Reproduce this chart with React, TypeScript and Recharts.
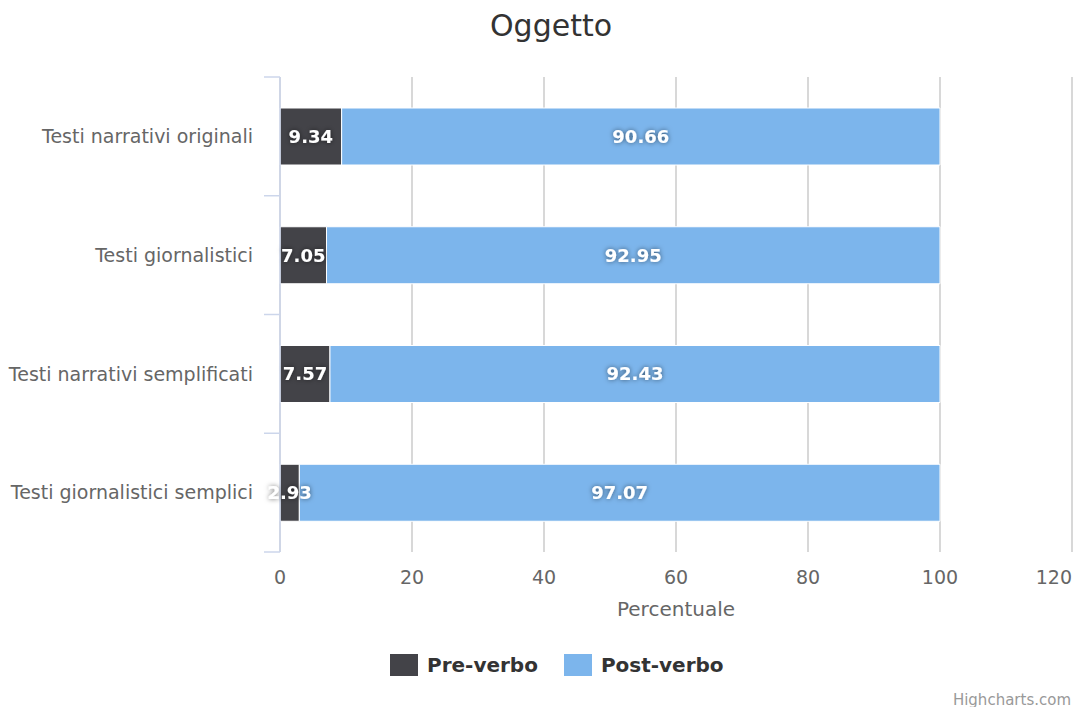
import React from 'react'
import { BarChart, Bar, XAxis, YAxis, CartesianGrid, LabelList } from 'recharts'

// categories and stacked shares (percent)
const categories = [
  'Testi narrativi originali',
  'Testi giornalistici',
  'Testi narrativi semplificati',
  'Testi giornalistici semplici',
]
const preVerbo = [9.34, 7.05, 7.57, 2.93]
const postVerbo = [90.66, 92.95, 92.43, 97.07]
const xTicks = [0, 20, 40, 60, 80, 100, 120]

const FONT = '"DejaVu Sans", "Lucida Grande", sans-serif'
const PRE_COLOR = '#434348'
const POST_COLOR = '#7cb5ec'
const AXIS_COLOR = '#ccd6eb'

const data = categories.map((name, i) => ({ name, pre: preVerbo[i], post: postVerbo[i] }))

const labelStyle = {
  fill: '#ffffff',
  fontSize: 18,
  fontWeight: 'bold' as const,
  fontFamily: FONT,
  filter: 'url(#glow)',
}

const legendItems = [
  { label: 'Pre-verbo', color: PRE_COLOR },
  { label: 'Post-verbo', color: POST_COLOR },
]

// category label plus tick marks on the band edges (Highcharts "between" placement)
function CategoryTick(props: any) {
  const { x, y, payload, index, visibleTicksCount } = props
  const half = payload.offset ?? 0
  const axisX = x + 27
  const isLast = index === (visibleTicksCount ?? categories.length) - 1
  return (
    <g>
      <line x1={axisX - 16} x2={axisX} y1={y - half} y2={y - half} stroke={AXIS_COLOR} strokeWidth={1.5} />
      {isLast && <line x1={axisX - 16} x2={axisX} y1={y + half} y2={y + half} stroke={AXIS_COLOR} strokeWidth={1.5} />}
      <text x={x} y={y} dy="0.35em" textAnchor="end" fill="#666666" fontSize={19} fontFamily={FONT}>
        {payload.value}
      </text>
    </g>
  )
}

// last value label is pulled inside the chart edge
function ValueTick(props: any) {
  const { x, y, payload } = props
  const last = payload.value === xTicks[xTicks.length - 1]
  return (
    <text x={x} y={y} dy="0.71em" textAnchor={last ? 'end' : 'middle'} fill="#666666" fontSize={19} fontFamily={FONT}>
      {payload.value}
    </text>
  )
}

export default function App() {
  return (
    <div style={{ position: 'absolute', left: 0, top: 0, width: 1073, height: 707, background: '#fff', fontFamily: FONT }}>
      <div style={{ position: 'absolute', top: 8, left: 451, width: 200, textAlign: 'center', fontSize: 30, color: '#333333' }}>
        Oggetto
      </div>
      <BarChart
        width={1073}
        height={707}
        data={data}
        layout="vertical"
        margin={{ top: 77, right: 1, bottom: 85, left: 0 }}
      >
        <defs>
          <filter id="glow" x="-30%" y="-50%" width="160%" height="200%">
            <feDropShadow dx="0" dy="0" stdDeviation="2.5" floodColor="#000" floodOpacity="0.55" />
          </filter>
        </defs>
        <CartesianGrid horizontal={false} stroke="#d8d8d8" strokeWidth={2} />
        <XAxis
          type="number"
          domain={[0, 120]}
          ticks={xTicks}
          interval={0}
          axisLine={false}
          tickLine={false}
          tickSize={0}
          tickMargin={19}
          height={70}
          tick={<ValueTick />}
          label={{ value: 'Percentuale', position: 'insideBottom', offset: 6, fill: '#666666', fontSize: 20, fontFamily: FONT }}
        />
        <YAxis
          type="category"
          dataKey="name"
          width={280}
          axisLine={{ stroke: AXIS_COLOR, strokeWidth: 1.5 }}
          tickLine={false}
          tickSize={0}
          tickMargin={27}
          interval={0}
          tick={<CategoryTick />}
        />
        <Bar dataKey="pre" name="Pre-verbo" stackId="a" fill={PRE_COLOR} stroke="#ffffff" strokeWidth={1} barSize={57} isAnimationActive={false}>
          <LabelList dataKey="pre" position="center" style={labelStyle} />
        </Bar>
        <Bar dataKey="post" name="Post-verbo" stackId="a" fill={POST_COLOR} stroke="#ffffff" strokeWidth={1} barSize={57} isAnimationActive={false}>
          <LabelList dataKey="post" position="center" style={labelStyle} />
        </Bar>
      </BarChart>
      <div style={{ position: 'absolute', top: 653, left: 390, display: 'flex', alignItems: 'center' }}>
        {legendItems.map((it) => (
          <div key={it.label} style={{ display: 'flex', alignItems: 'center', marginRight: 26 }}>
            <span style={{ display: 'inline-block', width: 28, height: 22, background: it.color, marginRight: 9 }} />
            <span style={{ fontSize: 20, fontWeight: 600, color: '#333333' }}>{it.label}</span>
          </div>
        ))}
      </div>
      <div style={{ position: 'absolute', right: 2, top: 691, fontSize: 15, color: '#999999' }}>Highcharts.com</div>
    </div>
  )
}
